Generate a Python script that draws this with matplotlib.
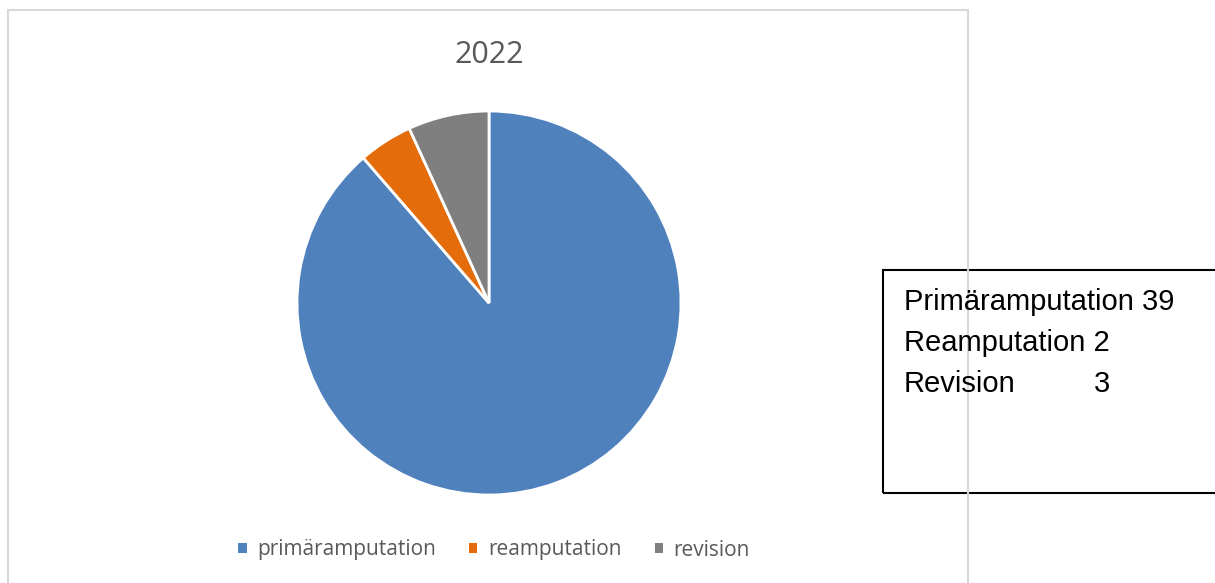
import matplotlib.pyplot as plt
from matplotlib.patches import Rectangle, Patch

labels = ["primäramputation", "reamputation", "revision"]
values = [39, 2, 3]
colors = ["#4F81BD", "#E46C0A", "#7F7F7F"]
title = "2022"
box_names = ["Primäramputation", "Reamputation", "Revision"]

W, H = 1215, 583
fig = plt.figure(figsize=(W / 100, H / 100), dpi=100)

# pie area: centre (489, 303), radius 192 px
cx, cy, r = 489, 303, 192
ax = fig.add_axes([(cx - r) / W, (H - cy - r) / H, 2 * r / W, 2 * r / H])
wedges, _ = ax.pie(values, colors=colors, startangle=90, counterclock=False,
                   wedgeprops=dict(edgecolor="white", linewidth=2))
ax.set_xlim(-1, 1)
ax.set_ylim(-1, 1)
ax.set_aspect("equal")
ax.axis("off")

fig.text(489 / W, 1 - 55 / H, title, ha="center", va="center",
         fontsize=22, color="#595959", family="Open Sans")

handles = [Patch(facecolor=c, edgecolor="none") for c in colors]
fig.legend(handles, labels, loc="center", bbox_to_anchor=(494 / W, 1 - 550 / H),
           ncol=3, frameon=False, handlelength=0.4, handleheight=0.4,
           handletextpad=0.5, columnspacing=1.6,
           prop={"family": "Open Sans", "size": 15}, labelcolor="#595959")

# text box on the right
box = Rectangle((883 / W, 1 - 493 / H), 400 / W, (493 - 270) / H,
                transform=fig.transFigure, fill=False, edgecolor="black",
                linewidth=1.5, zorder=1)
fig.add_artist(box)
baselines = [310, 351, 392]
for name, v, yb in zip(box_names, values, baselines):
    if name == "Revision":
        fig.text(904 / W, 1 - yb / H, name, ha="left", va="baseline",
                 fontsize=21, family="Liberation Sans", color="black")
        fig.text(1094 / W, 1 - yb / H, str(v), ha="left", va="baseline",
                 fontsize=21, family="Liberation Sans", color="black")
    else:
        fig.text(904 / W, 1 - yb / H, f"{name} {v}", ha="left", va="baseline",
                 fontsize=21, family="Liberation Sans", color="black")

# chart frame
frame = Rectangle((8 / W, -0.2), 960 / W, 1.2 - 10 / H,
                  transform=fig.transFigure, fill=False, edgecolor="#D9D9D9",
                  linewidth=1.5, zorder=2)
fig.add_artist(frame)

fig.savefig("out.png", dpi=100)
